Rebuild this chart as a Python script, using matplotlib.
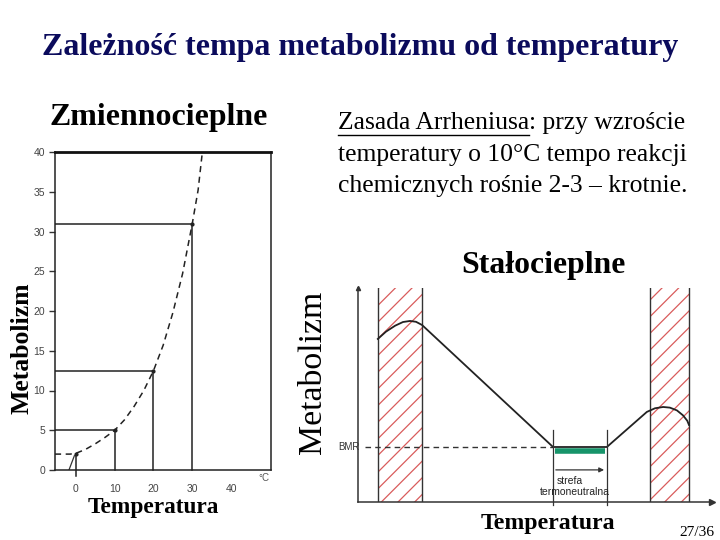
import matplotlib
matplotlib.use("Agg")
import matplotlib.pyplot as plt

W, H = 720, 540
plt.rcParams['hatch.linewidth'] = 0.9
SERIF = ['Liberation Serif', 'DejaVu Serif']
SANS = ['Liberation Sans', 'DejaVu Sans']

# ---------------- data: left chart (poikilotherms) ----------------
left_yticks = [0, 5, 10, 15, 20, 25, 30, 35, 40]
left_xticks = [0, 10, 20, 30, 40]
curve_temp = [-5.4, -1.5, 0, 2.5, 5, 7.5, 10, 12.5, 15, 17.5, 20, 22.5, 25, 27.5, 30, 31.5, 32.6]
curve_metab = [2, 2, 2.1, 2.6, 3.3, 4.1, 5, 6.3, 8, 10, 12.5, 15.7, 19.8, 24.7, 31, 35.2, 40]
mark_temp = [0, 10, 20, 30]
mark_metab = [2, 5, 12.5, 31]

# ---------------- data: right chart (homeotherms) ----------------
homeo_x = [5.6, 7.9, 10.5, 12.7, 14.7, 16.4, 18.1, 55.1, 70.3, 81.6, 83.9, 86.2, 88.1, 90.1, 91.8, 93.0, 93.5]
homeo_y = [76.2, 79.6, 82.4, 84.1, 84.6, 84.2, 82.7, 25.7, 25.7, 42.1, 43.8, 44.4, 44.1, 42.8, 40.5, 38.0, 36.0]
bands = [(5.6, 18.1), (82.5, 93.5)]
bmr_level = 25.7
bmr_start = 2.0
tn_zone = (55.1, 70.3)
green_zone = (55.6, 69.8)
green_level = 23.8

fig = plt.figure(figsize=(W / 100, H / 100), dpi=100)
fig.patch.set_facecolor('white')


def fx(px):
    return px / W


def fy(py):
    return 1 - py / H


def rect(l, t, r, b):
    return [fx(l), fy(b), (r - l) / W, (b - t) / H]


# ---------------- left chart ----------------
axl = fig.add_axes(rect(55, 152, 271, 470))
axl.set_xlim(-5.4, 50.3)
axl.set_ylim(0, 40)
for s in ['left', 'bottom', 'right']:
    axl.spines[s].set_linewidth(1.1)
    axl.spines[s].set_color('#222222')
axl.spines['top'].set_linewidth(2.0)
axl.spines['top'].set_color('#111111')
axl.set_yticks(left_yticks)
axl.set_yticklabels([str(v) for v in left_yticks], fontsize=7.5, color='#444444', family=SANS)
axl.set_xticks(left_xticks)
axl.set_xticklabels([str(v) for v in left_xticks], fontsize=7.5, color='#444444', family=SANS)
axl.tick_params(axis='y', direction='out', length=4, width=1, color='#333333', pad=3)
axl.tick_params(axis='x', length=0, pad=10)
axl.plot(curve_temp, curve_metab, color='#222222', lw=1.1, dashes=(4, 3), clip_on=False)
for t, m in zip(mark_temp, mark_metab):
    if t != 0:
        axl.plot([-5.4, t], [m, m], color='#222222', lw=1.1)
    axl.plot([t, t], [m, -0.8 if t == 0 else 0], color='#222222', lw=1.1, clip_on=False)
    axl.plot([t], [m], 'o', color='#222222', ms=2)
axl.plot([-1.8, -0.4], [0, 1.8], color='#333333', lw=0.9)
axl.text(48.5, -1.0, '°C', fontsize=7, color='#555555', ha='center', va='center', family=SANS)

# ---------------- right chart ----------------
axr = fig.add_axes(rect(358, 288, 712, 502))
axr.set_xlim(0, 100)
axr.set_ylim(0, 100)
for s in ['top', 'right']:
    axr.spines[s].set_visible(False)
for s in ['left', 'bottom']:
    axr.spines[s].set_linewidth(1.1)
    axr.spines[s].set_color('#333333')
axr.set_xticks([])
axr.set_yticks([])
axr.plot([1.0], [0], marker='>', color='#333333', ms=4, transform=axr.transAxes, clip_on=False)
axr.plot([0], [1.0], marker='^', color='#333333', ms=3, transform=axr.transAxes, clip_on=False)
for a, b in bands:
    axr.fill_between([a, b], 0, 100, facecolor='none', edgecolor='#d95c5c', hatch='//', linewidth=0)
    axr.plot([a, a], [0, 100], color='#333333', lw=1.0)
    axr.plot([b, b], [0, 100], color='#333333', lw=1.0)
axr.plot([bmr_start, tn_zone[0]], [bmr_level, bmr_level], color='#333333', lw=1.0, dashes=(4, 3))
axr.plot(list(green_zone), [green_level, green_level], color='#17946a', lw=4, solid_capstyle='butt')
axr.plot(homeo_x, homeo_y, color='#222222', lw=1.3)
for xv in tn_zone:
    axr.plot([xv, xv], [33.6, -1.5], color='#333333', lw=0.9, clip_on=False)
axr.annotate('', xy=(tn_zone[1], 15), xytext=(tn_zone[0], 15),
             arrowprops=dict(arrowstyle='-|>', color='#333333', lw=0.9, mutation_scale=7))
axr.text(56.2, 10.0, 'strefa', fontsize=7.5, family=SANS, ha='left', va='center', color='#222222')
axr.text(51.4, 4.6, 'termoneutralna', fontsize=7.5, family=SANS, ha='left', va='center', color='#222222')
axr.text(0.5, bmr_level, 'BMR', fontsize=7, family=SANS, ha='right', va='center', color='#333333')

# ---------------- texts ----------------
renderer = fig.canvas.get_renderer()


def fit(txt, target_w):
    bb = txt.get_window_extent(renderer)
    txt.set_fontsize(txt.get_fontsize() * target_w / bb.width)


def ptext(x, y, s, size, target_w=None, **kw):
    t = fig.text(fx(x), fy(y), s, fontsize=size, family=SERIF, **kw)
    if target_w:
        fit(t, target_w)
    return t


ptext(360, 48, 'Zależność tempa metabolizmu od temperatury', 22, 636,
      ha='center', va='center', weight='bold', color='#0b0b5c')
ptext(159, 118, 'Zmiennocieplne', 22, 218, ha='center', va='center', weight='bold')
ptext(543, 265, 'Stałocieplne', 20, 164, ha='center', va='center', weight='bold')
ptext(153, 508, 'Temperatura', 15, 132, ha='center', va='center', weight='bold')
ptext(548, 523, 'Temperatura', 15, 135, ha='center', va='center', weight='bold')
t = ptext(22, 348, 'Metabolizm', 17, None, ha='center', va='center', weight='bold', rotation=90)
bb = t.get_window_extent(renderer)
t.set_fontsize(t.get_fontsize() * 132 / bb.height)
t2 = ptext(313, 372, 'Metabolizm', 17, None, ha='center', va='center', rotation=90)
bb = t2.get_window_extent(renderer)
t2.set_fontsize(t2.get_fontsize() * 163 / bb.height)
ptext(697, 532, '27/36', 10, 35, ha='center', va='center')

# Arrhenius text
fs = 18
l1a = ptext(338, 123, 'Zasada Arrheniusa', fs, None, ha='left', va='center')
l2 = ptext(338, 155, 'temperatury o 10°C tempo reakcji', fs, None, ha='left', va='center')
scale = 350 / l2.get_window_extent(renderer).width
fs = fs * scale
l1a.set_fontsize(fs)
l2.set_fontsize(fs)
ptext(338, 186, 'chemicznych rośnie 2-3 – krotnie.', fs, None, ha='left', va='center')
bb = l1a.get_window_extent(renderer)
ptext(bb.x1, 123, ': przy wzroście', fs, None, ha='left', va='center')
fig.add_artist(plt.Line2D([fx(bb.x0), fx(bb.x1)], [fy(H - bb.y0 + 1), fy(H - bb.y0 + 1)],
                          color='black', lw=1.0, transform=fig.transFigure))

fig.savefig('out.png', dpi=100, facecolor='white')
